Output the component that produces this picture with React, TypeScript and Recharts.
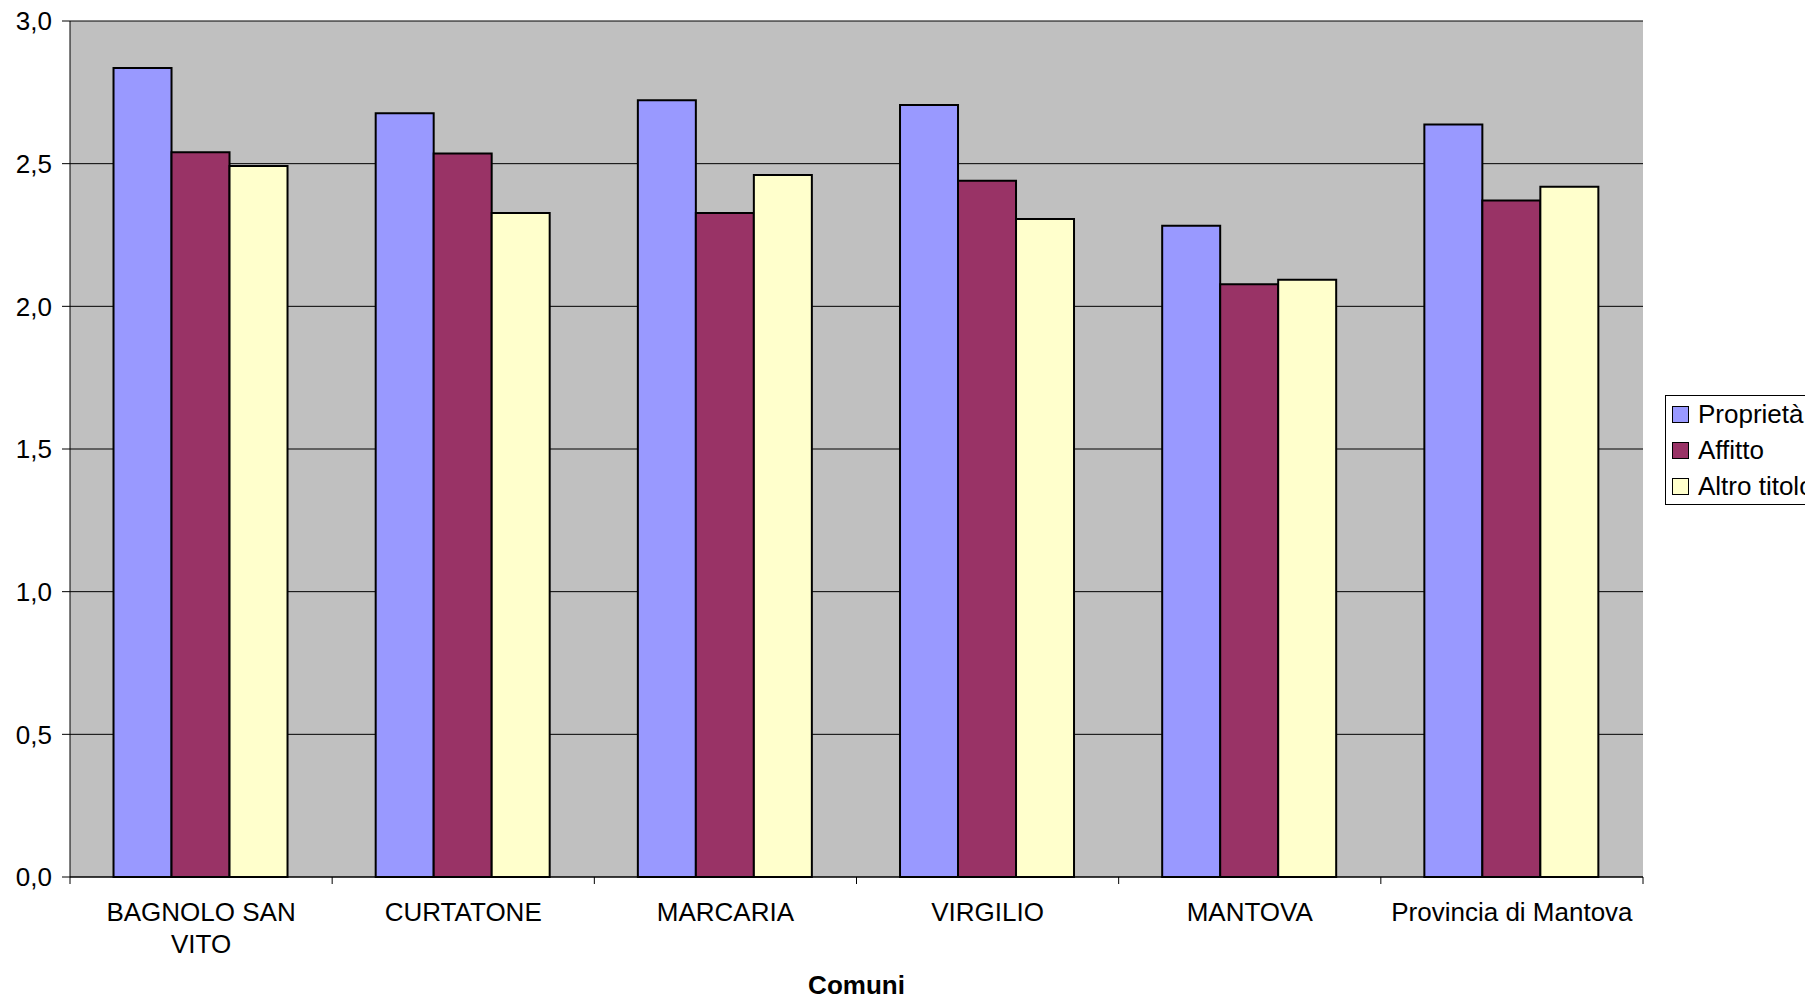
import React from "react";
import { Bar, BarChart, CartesianGrid, XAxis, YAxis, Legend, Label } from "recharts";

const comuni = ["BAGNOLO SAN VITO", "CURTATONE", "MARCARIA", "VIRGILIO", "MANTOVA", "Provincia di Mantova"];
const proprieta = [2.835, 2.677, 2.722, 2.706, 2.282, 2.637];
const affitto = [2.54, 2.536, 2.327, 2.44, 2.077, 2.371];
const altroTitolo = [2.492, 2.327, 2.46, 2.306, 2.093, 2.419];
const yTicks = [0, 0.5, 1, 1.5, 2, 2.5, 3];

const series = [
  { key: "proprieta", name: "Proprietà", color: "#9999FF" },
  { key: "affitto", name: "Affitto", color: "#993366" },
  { key: "altro", name: "Altro titolo", color: "#FFFFCC" },
];

const W = 1805;
const H = 996;
const FONT = "'Liberation Sans', Arial, sans-serif";
const LEFT = 70;
const RIGHT = 162;
const BAND = (W - LEFT - RIGHT) / comuni.length;

const data = comuni.map((c, i) => ({
  comune: c,
  proprieta: proprieta[i],
  affitto: affitto[i],
  altro: altroTitolo[i],
}));

// greedy word wrap measured with a canvas, labels wider than maxW go on two lines
let ctx: CanvasRenderingContext2D | null = null;
function wrap(label: string, maxW: number): string[] {
  if (!ctx) {
    ctx = document.createElement("canvas").getContext("2d");
    if (ctx) ctx.font = `26px ${FONT}`;
  }
  if (!ctx) return [label];
  const words = label.split(" ");
  const lines: string[] = [];
  let cur = "";
  for (const w of words) {
    const next = cur ? cur + " " + w : w;
    if (cur && ctx.measureText(next).width > maxW) {
      lines.push(cur);
      cur = w;
    } else cur = next;
  }
  lines.push(cur);
  return lines;
}

function CatTick(props: any) {
  const { x, y, payload, index } = props;
  const last = index === comuni.length - 1;
  const lines = wrap(String(payload.value), 248);
  return (
    <g>
      <line x1={x - BAND / 2} y1={y} x2={x - BAND / 2} y2={y + 7} stroke="#000" />
      {last && <line x1={x + BAND / 2} y1={y} x2={x + BAND / 2} y2={y + 7} stroke="#000" />}
      <text x={x} y={y + 44} textAnchor="middle" fontSize={26} fontFamily={FONT} fill="#000">
        {lines.map((l, i) => (
          <tspan key={i} x={x} dy={i === 0 ? 0 : 32}>
            {l}
          </tspan>
        ))}
      </text>
    </g>
  );
}

function LegendBox() {
  return (
    <div style={{ border: "1px solid #000", background: "#fff", width: 200, fontFamily: FONT, fontSize: 26, color: "#000" }}>
      {series.map((s) => (
        <div key={s.key} style={{ height: 36, display: "flex", alignItems: "center", whiteSpace: "nowrap" }}>
          <span style={{ display: "inline-block", width: 15, height: 15, marginLeft: 6, marginRight: 9, border: "1px solid #000", background: s.color }} />
          <span>{s.name}</span>
        </div>
      ))}
    </div>
  );
}

export default function App() {
  return (
    <div style={{ position: "absolute", left: 0, top: 0, width: W, height: H, overflow: "hidden", background: "#fff" }}>
      <BarChart
        width={W}
        height={H}
        data={data}
        margin={{ top: 21, right: RIGHT, bottom: 0, left: 0 }}
        barCategoryGap="16.6%"
        barGap={0}
      >
        <CartesianGrid horizontal vertical={false} stroke="#000" fill="#C0C0C0" fillOpacity={1} />
        <XAxis
          dataKey="comune"
          height={119}
          interval={0}
          tickSize={0}
          tickMargin={0}
          tickLine={false}
          axisLine={{ stroke: "#000" }}
          tick={<CatTick />}
        >
          <Label value="Comuni" position="insideBottom" offset={2} style={{ fontSize: 26, fontWeight: "bold", fontFamily: FONT, fill: "#000" }} />
        </XAxis>
        <YAxis
          width={LEFT}
          domain={[0, 3]}
          ticks={yTicks}
          interval={0}
          tickSize={8}
          tickMargin={10}
          axisLine={{ stroke: "#000" }}
          tickLine={{ stroke: "#000" }}
          tick={{ fontSize: 26, fontFamily: FONT, fill: "#000" }}
          tickFormatter={(v: number) => v.toFixed(1).replace(".", ",")}
        />
        <Legend
          layout="vertical"
          align="center"
          verticalAlign="middle"
          content={<LegendBox />}
          wrapperStyle={{ left: 1665, top: 395, width: 200, height: 110 }}
        />
        {series.map((s) => (
          <Bar key={s.key} dataKey={s.key} name={s.name} fill={s.color} stroke="#000" strokeWidth={2} isAnimationActive={false} />
        ))}
      </BarChart>
    </div>
  );
}
